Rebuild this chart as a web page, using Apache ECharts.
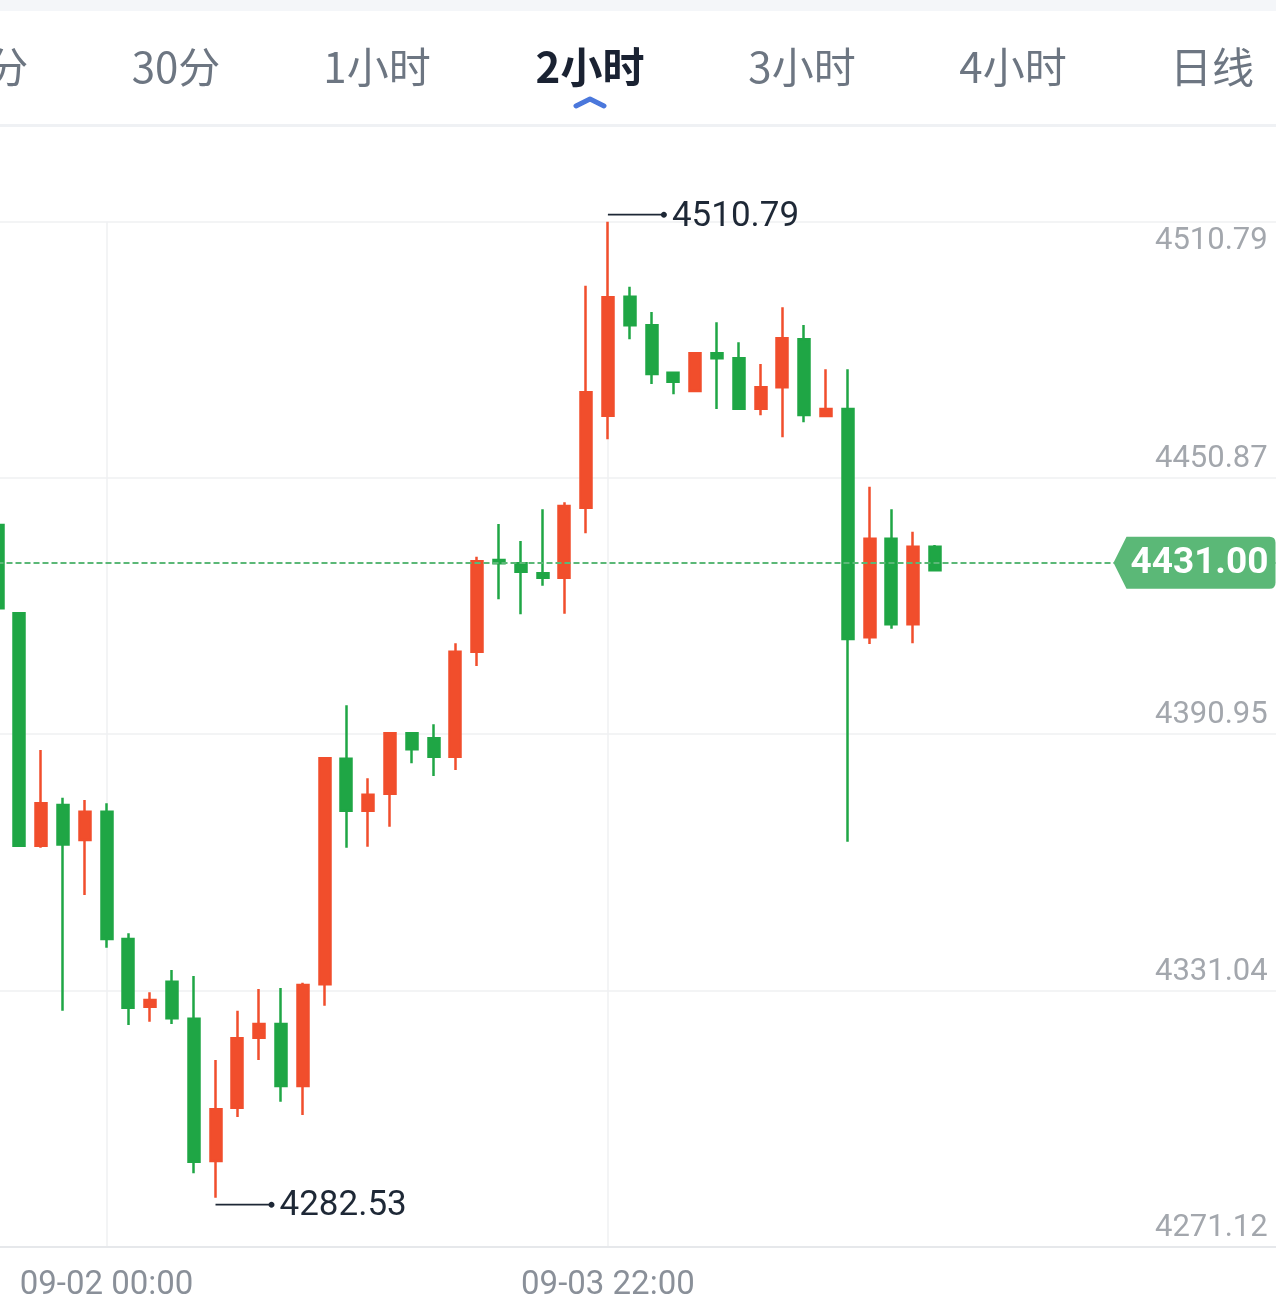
<!DOCTYPE html>
<html><head><meta charset="utf-8">
<script src="https://cdn.jsdelivr.net/npm/echarts@6/dist/echarts.min.js"></script>
<style>html,body{margin:0;padding:0;background:#fff}#c{width:1276px;height:1310px}</style>
</head><body><div id="c"></div><script>
// ---- data ----
const TABS = ['15分', '30分', '1小时', '2小时', '3小时', '4小时', '日线'];
const ACTIVE_TAB = 3;
const CATEGORIES = [
  '09-01 14:00','09-01 16:00','09-01 18:00','09-01 20:00','09-01 22:00',
  '09-02 00:00','09-02 02:00','09-02 04:00','09-02 06:00','09-02 08:00','09-02 10:00','09-02 12:00',
  '09-02 14:00','09-02 16:00','09-02 18:00','09-02 20:00','09-02 22:00',
  '09-03 00:00','09-03 02:00','09-03 04:00','09-03 06:00','09-03 08:00','09-03 10:00','09-03 12:00',
  '09-03 14:00','09-03 16:00','09-03 18:00','09-03 20:00','09-03 22:00',
  '09-04 00:00','09-04 02:00','09-04 04:00','09-04 06:00','09-04 08:00','09-04 10:00','09-04 12:00',
  '09-04 14:00','09-04 16:00','09-04 18:00','09-04 20:00','09-04 22:00',
  '09-05 00:00','09-05 02:00','09-05 04:00'
];
const FUTURE_SLOTS = 16;
const X_LABELS = ['09-02 00:00', '09-03 22:00'];
const OPEN  = [4439.86,4419.21,4364.85,4374.37,4366.19,4372.81,4343.04,4327.20,4333.05,4324.40,4291.12,4303.58,4319.95,4323.16,4308.66,4332.44,4385.20,4373.04,4377.02,4391.14,4389.97,4385.67,4410.23,4431.67,4430.90,4428.56,4427.53,4443.90,4465.42,4493.25,4486.56,4475.48,4471.20,4480.01,4478.84,4467.06,4472.06,4483.29,4465.35,4466.99,4413.59,4436.65,4416.63,4434.78];
const CLOSE = [4420.38,4364.85,4374.77,4365.14,4372.81,4343.04,4326.97,4328.77,4324.49,4290.95,4303.21,4319.81,4323.16,4308.66,4332.28,4385.30,4373.04,4376.78,4391.14,4387.40,4385.67,4410.23,4431.39,4430.90,4428.94,4427.53,4444.30,4470.89,4493.11,4486.56,4475.17,4473.37,4480.01,4478.84,4467.06,4472.06,4483.52,4465.58,4466.99,4413.20,4436.65,4416.63,4434.78,4429.30];
const LOW   = [4420.38,4364.62,4364.39,4326.27,4353.32,4341.00,4322.92,4323.69,4323.16,4288.24,4282.53,4301.41,4314.74,4304.98,4301.87,4327.44,4364.39,4364.62,4369.30,4384.13,4381.16,4382.56,4406.88,4422.48,4418.97,4425.66,4419.11,4437.92,4459.90,4483.29,4472.83,4470.42,4471.20,4466.99,4467.06,4465.51,4460.37,4463.88,4465.04,4365.79,4412.03,4415.60,4412.19,4429.30];
const HIGH  = [4439.86,4419.21,4387.24,4376.08,4375.54,4374.77,4344.37,4330.57,4335.79,4334.38,4314.74,4326.27,4331.34,4331.58,4332.82,4385.53,4397.69,4380.62,4391.14,4391.45,4393.25,4412.19,4432.44,4440.09,4436.12,4443.53,4445.17,4495.82,4510.79,4495.59,4489.67,4475.64,4480.25,4487.26,4482.59,4477.51,4490.77,4486.63,4476.27,4476.27,4448.81,4443.53,4438.29,4435.18];
const Y_TICK_VALUES = [4271.12, 4331.0375, 4390.955, 4450.8725, 4510.79];
const Y_TICK_LABELS = ['4271.12', '4331.04', '4390.95', '4450.87', '4510.79'];
const LAST_PRICE = 4431.00;
const TAG_SLOT = 55;

// ---- styles ----
const RED = '#F14E2C', GREEN = '#1FA645', TAG_GREEN = '#5BB877';
const BASE = Y_TICK_VALUES[0];
const Y_INTERVAL = (Y_TICK_VALUES[4] - Y_TICK_VALUES[0]) / 4;
const rel = v => v - BASE;

const candles = OPEN.map((o, i) => [rel(o), rel(CLOSE[i]), rel(LOW[i]), rel(HIGH[i])]);
const xData = CATEGORIES.concat(Array(FUTURE_SLOTS).fill(''));
let maxIdx = 0, minIdx = 0;
HIGH.forEach((v, i) => { if (v > HIGH[maxIdx]) maxIdx = i; });
LOW.forEach((v, i) => { if (v < LOW[minIdx]) minIdx = i; });

const PIN_R = 'path://M0,2.1L55,2.1L55,3.9L0,3.9Z M59,3C59,4.66 57.66,6 56,6C54.34,6 53,4.66 53,3C53,1.34 54.34,0 56,0C57.66,0 59,1.34 59,3Z';
const TAG = 'path://M0,26L13,0L156,0Q162,0 162,6L162,46Q162,52 156,52L13,52Z';
const markLabel = { show: true, position: 'right', distance: 5, color: '#1E2836', fontSize: 35, fontFamily: 'Roboto' };

const TAB_CX = [-16, 176, 377, 590, 802, 1013, 1212];
const graphics = [
  { type: 'rect', shape: { x: 0, y: 0, width: 1276, height: 11 }, style: { fill: '#F4F6F9' }, silent: true },
  { type: 'rect', shape: { x: 0, y: 124, width: 1276, height: 3 }, style: { fill: '#EFF1F4' }, silent: true },
  { type: 'polyline', shape: { points: [[576, 106], [590, 99], [604, 106]] },
    style: { stroke: '#4B78DC', lineWidth: 5, lineCap: 'round', lineJoin: 'round', fill: null }, silent: true }
].concat(TABS.map((t, i) => ({
  type: 'text', x: TAB_CX[i], y: 67, silent: true,
  style: { text: t, font: (i === ACTIVE_TAB ? 'bold ' : '') + '42px "Noto Sans CJK SC"',
    fill: i === ACTIVE_TAB ? '#1A2232' : '#6D7682', align: 'center', verticalAlign: 'middle' }
})));

const chart = echarts.init(document.getElementById('c'));
chart.setOption({
  animation: false,
  backgroundColor: '#ffffff',
  graphic: graphics,
  grid: { left: -2.5, right: -7.7, top: 221.7, bottom: 63.5, containLabel: false, outerBoundsMode: 'none' },
  xAxis: {
    type: 'category', data: xData, boundaryGap: false,
    axisLine: { show: true, lineStyle: { color: '#E6E8EB', width: 2 } },
    axisTick: { show: false },
    axisLabel: { interval: (i, v) => X_LABELS.includes(v), color: '#8A9099', fontSize: 33, fontFamily: 'Roboto', margin: 23 },
    splitLine: { show: true, interval: (i, v) => X_LABELS.includes(v), lineStyle: { color: '#EFF0F2', width: 1.5 } }
  },
  yAxis: {
    type: 'value', position: 'right', min: 0, max: rel(Y_TICK_VALUES[4]), interval: Y_INTERVAL,
    axisLine: { show: false }, axisTick: { show: false },
    splitLine: { show: true, lineStyle: { color: '#EFF0F2', width: 1.5 } },
    axisLabel: {
      inside: true, margin: 16, verticalAlign: 'middle',
      formatter: v => {
        const i = Math.round(v / Y_INTERVAL);
        const t = Y_TICK_LABELS[i];
        return i === Y_TICK_LABELS.length - 1 ? '{gap| }\n{lbl|' + t + '}' : '{lbl|' + t + '}\n{gap2| }';
      },
      rich: {
        lbl: { color: '#A3A7AD', fontSize: 31, fontFamily: 'Roboto', lineHeight: 32 },
        gap: { fontSize: 8, lineHeight: 39 },
        gap2: { fontSize: 8, lineHeight: 37 }
      }
    }
  },
  series: [{
    type: 'candlestick', data: candles, barWidth: 11.5, clip: false,
    itemStyle: { color: RED, color0: GREEN, borderColor: RED, borderColor0: GREEN, borderWidth: 2.5 },
    markLine: {
      silent: true, symbol: 'none', z: 5, animation: false,
      label: { show: false },
      lineStyle: { color: TAG_GREEN, type: [6, 3], width: 2 },
      data: [{ yAxis: rel(LAST_PRICE) }]
    },
    markPoint: {
      silent: true, z: 10, animation: false,
      data: [
        { coord: [maxIdx, rel(HIGH[maxIdx])], symbol: PIN_R, symbolSize: [59, 6], symbolOffset: [29.5, -7],
          itemStyle: { color: '#1E2836' }, label: Object.assign({ formatter: HIGH[maxIdx].toFixed(2), offset: [0, 3] }, markLabel) },
        { coord: [minIdx, rel(LOW[minIdx])], symbol: PIN_R, symbolSize: [59, 6], symbolOffset: [29.5, 7],
          itemStyle: { color: '#1E2836' }, label: Object.assign({ formatter: LOW[minIdx].toFixed(2), offset: [0, 2] }, markLabel) },
        { coord: [TAG_SLOT, rel(LAST_PRICE)], symbol: TAG, symbolSize: [162, 52], symbolOffset: [-2, 0],
          itemStyle: { color: TAG_GREEN },
          label: { show: true, position: 'inside', offset: [5, 1], formatter: LAST_PRICE.toFixed(2),
            color: '#ffffff', fontSize: 37, fontWeight: 'bold', fontFamily: 'Roboto' } }
      ]
    }
  }]
});
</script></body></html>
